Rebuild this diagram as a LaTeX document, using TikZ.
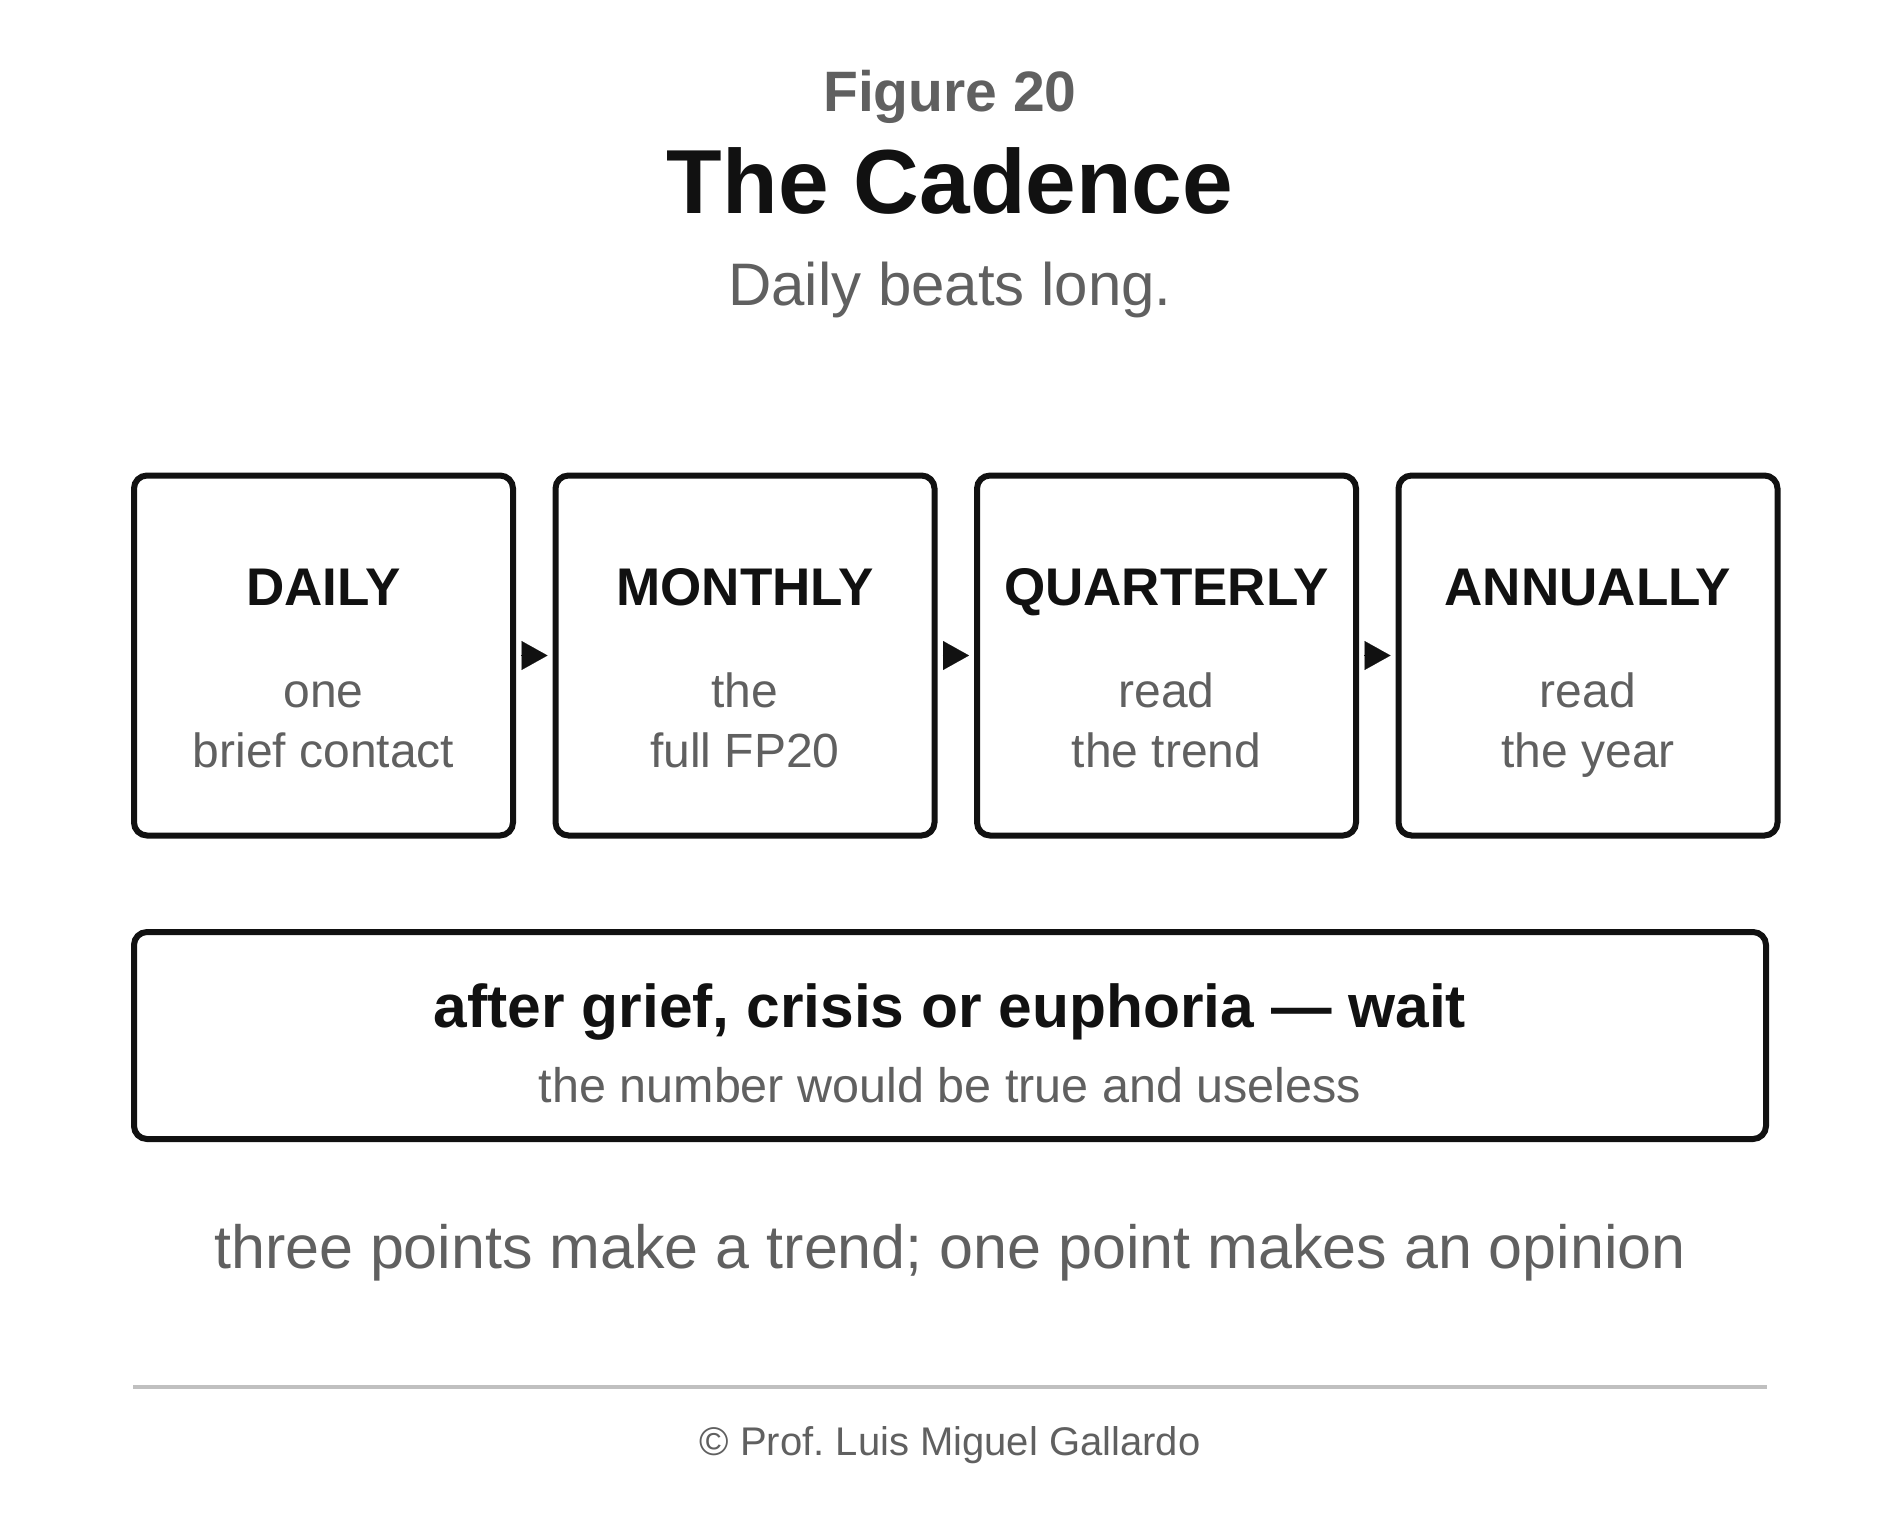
\documentclass[tikz,border=0pt]{standalone}
\usepackage{fontspec}
\setmainfont{Liberation Sans}
\usetikzlibrary{arrows.meta, positioning}
\definecolor{ink}{HTML}{111111}
\definecolor{softgray}{HTML}{606060}
\definecolor{rulegray}{HTML}{C0C0C0}
\frenchspacing

\begin{document}
\begin{tikzpicture}[x=1pt, y=-1pt, >={Triangle[length=26pt, width=29pt]},
  stage/.style={draw=ink, line width=6pt, rounded corners=13pt, minimum width=379pt, minimum height=360pt, inner sep=0pt},
  stagehead/.style={anchor=base, text=ink, font=\bfseries\fontsize{53}{60}\selectfont},
  stagetext/.style={anchor=base, text=softgray, align=center, font=\fontsize{48}{60}\selectfont},
  flow/.style={->, draw=ink, line width=0.1pt, shorten <=5pt, shorten >=5pt}]

\useasboundingbox (0,0) rectangle (1900,1520);

% heading
\node[anchor=base, text=softgray, font=\bfseries\fontsize{57}{60}\selectfont] (fig) at (950,111) {Figure 20};
\node[anchor=base, text=ink, font=\bfseries\fontsize{91}{100}\selectfont] (title) at (950,213) {The Cadence};
\node[anchor=base, text=softgray, font=\fontsize{60}{70}\selectfont] (motto) at (950,305) {Daily beats long.};

% the four rhythms
\node[stage] (daily) at (323.5,655.5) {};
\node[stage, right=36.5pt of daily] (monthly) {};
\node[stage, right=36.5pt of monthly] (quarterly) {};
\node[stage, right=36.5pt of quarterly] (annually) {};

% base of a two-line text is its last line
\node[stagehead] (dailyhead) at ([yshift=50.5pt]daily.center) {DAILY};
\node[stagetext] (dailytext) at ([yshift=-111.5pt]daily.center) {one\\brief contact};
\node[stagehead] (monthlyhead) at ([yshift=50.5pt]monthly.center) {MONTHLY};
\node[stagetext] (monthlytext) at ([yshift=-111.5pt]monthly.center) {the\\full FP20};
\node[stagehead] (quarterlyhead) at ([yshift=50.5pt]quarterly.center) {QUARTERLY};
\node[stagetext] (quarterlytext) at ([yshift=-111.5pt]quarterly.center) {read\\the trend};
\node[stagehead] (annuallyhead) at ([yshift=50.5pt]annually.center) {ANNUALLY};
\node[stagetext] (annuallytext) at ([yshift=-111.5pt]annually.center) {read\\the year};

\draw[flow] (daily.east) -- (monthly.west);
\draw[flow] (monthly.east) -- (quarterly.west);
\draw[flow] (quarterly.east) -- (annually.west);

% the exception
\node[stage, minimum width=1632pt, minimum height=207pt] (wait) at (950,1035.5) {};
\node[anchor=base, text=ink, font=\bfseries\fontsize{60.5}{70}\selectfont] (waithead) at ([yshift=8.5pt]wait.center) {after grief, crisis or euphoria — wait};
\node[anchor=base, text=softgray, font=\fontsize{48.5}{60}\selectfont] (waittext) at ([yshift=-66.5pt]wait.center) {the number would be true and useless};

% closing line and credit
\node[anchor=base, text=softgray, font=\fontsize{61}{70}\selectfont] (trend) at (950,1268) {three points make a trend; one point makes an opinion};
\draw[rulegray, line width=3.5pt] (133,1387) -- (1767,1387);
\node[anchor=base, text=softgray, font=\fontsize{40}{48}\selectfont] (credit) at (950,1455) {© Prof. Luis Miguel Gallardo};

\end{tikzpicture}
\end{document}
